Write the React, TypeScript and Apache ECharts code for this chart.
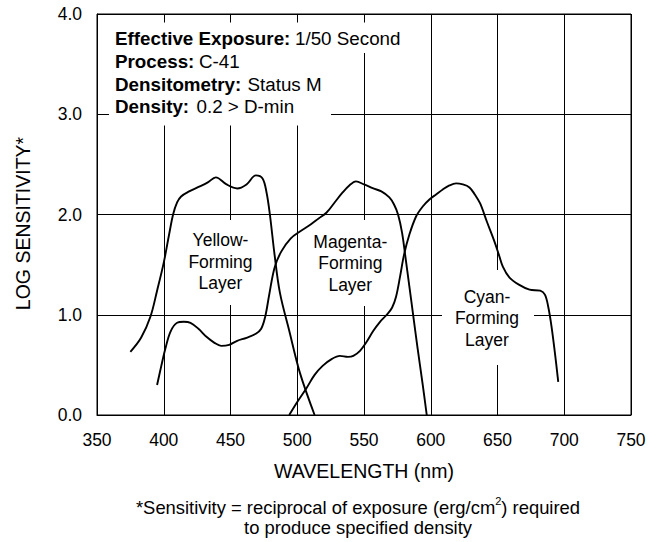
import React, { useEffect, useRef } from 'react';
import * as echarts from 'echarts';

// Axis ranges
const xMin = 350;
const xMax = 750;
const xStep = 50;
const yMin = 0;
const yMax = 4;
const yStep = 1;

// Spectral sensitivity curves: [wavelength nm, log sensitivity]
const yellowLayer: [number, number][] = [
  [375, 0.63], [383, 0.77], [390, 0.98], [395, 1.24], [400, 1.52], [404, 1.8],
  [407, 2.0], [410, 2.12], [413, 2.18], [419, 2.23], [427, 2.28], [433, 2.32],
  [439, 2.37], [447, 2.3], [455, 2.26], [462, 2.3], [469, 2.39], [474, 2.36],
  [477, 2.22], [479.5, 2.0], [483, 1.6], [487, 1.22], [494, 0.84], [502, 0.42],
  [513, 0.0],
];
const magentaLayer: [number, number][] = [
  [395, 0.3], [398, 0.48], [401, 0.65], [405, 0.83], [410, 0.92], [415, 0.93],
  [420, 0.92], [426, 0.86], [432, 0.78], [438, 0.72], [443, 0.69], [449, 0.7],
  [455, 0.74], [462, 0.77], [469, 0.81], [473, 0.86], [476, 0.98], [479, 1.2],
  [483, 1.47], [488, 1.63], [495, 1.76], [502, 1.83], [510, 1.9], [516, 1.96],
  [522, 2.02], [528, 2.12], [534, 2.22], [539, 2.29], [544, 2.33], [550, 2.3],
  [557, 2.26], [563, 2.23], [569, 2.17], [572.5, 2.1], [575.5, 2.0], [578.5, 1.82],
  [581, 1.58], [584, 1.28], [587, 0.98], [590, 0.68], [594, 0.3], [597, 0.0],
];
const cyanLayer: [number, number][] = [
  [494, 0.0], [500, 0.13], [507, 0.27], [513, 0.4], [519, 0.49], [526, 0.56],
  [532, 0.59], [538, 0.58], [542, 0.59], [547, 0.64], [552, 0.73], [557, 0.84],
  [562, 0.93], [567, 1.0], [571, 1.07], [574, 1.18], [577, 1.38], [580, 1.6],
  [584, 1.8], [589, 1.98], [594, 2.08], [599, 2.15], [604, 2.2], [609, 2.25],
  [614, 2.29], [619, 2.31], [624, 2.3], [629, 2.27], [633, 2.2], [637, 2.11],
  [642, 1.93], [648, 1.72], [651, 1.6], [654, 1.48], [659, 1.37], [666, 1.3],
  [674, 1.25], [682, 1.24], [685.5, 1.2], [688, 1.08], [690.5, 0.88], [693, 0.62],
  [695.5, 0.33],
];

// Texts
const infoLabels = ['Effective Exposure:', 'Process:', 'Densitometry:', 'Density:'];
const infoValues = ['1/50 Second', 'C-41', 'Status M', '0.2 > D-min'];
const layerNames = ['Yellow-\nForming\nLayer', 'Magenta-\nForming\nLayer', 'Cyan-\nForming\nLayer'];
const xAxisTitle = 'WAVELENGTH (nm)';
const yAxisTitle = 'LOG SENSITIVITY*';
const footnoteLine1 = '*Sensitivity = reciprocal of exposure (erg/cm{sup|2}) required';
const footnoteLine2 = 'to produce specified density';

const FONT = '"Liberation Sans", Arial, Helvetica, sans-serif';

export default function App() {
  const ref = useRef<HTMLDivElement>(null);

  useEffect(() => {
    document.body.style.margin = '0';
    if (!ref.current) return;
    const chart = echarts.init(ref.current, undefined, { renderer: 'svg' });

    const infoValueX = [295, 199, 247.5, 196.5];
    const infoY = [38.2, 61, 84, 106.5];
    const layerPos = [
      [220.5, 261.7],
      [350.3, 263.3],
      [487, 318.3],
    ];

    const whiteRects = [
      { x: 109, y: 22.5, width: 222, height: 103 },
      { x: 330, y: 22.5, width: 80, height: 30.5 },
      { x: 186, y: 220, width: 70, height: 85 },
      { x: 314, y: 220, width: 74, height: 86 },
      { x: 442, y: 270, width: 92, height: 95 },
    ];

    const graphic: any[] = [];
    whiteRects.forEach((r) => {
      graphic.push({ type: 'rect', z: 1, silent: true, shape: r, style: { fill: '#fff' } });
    });
    infoLabels.forEach((t, i) => {
      graphic.push({
        type: 'text', z: 3, x: 115, y: infoY[i],
        style: { text: t, fill: '#000', font: `bold 18.8px ${FONT}`, align: 'left', verticalAlign: 'middle' },
      });
      graphic.push({
        type: 'text', z: 3, x: infoValueX[i], y: infoY[i],
        style: { text: infoValues[i], fill: '#000', font: `18.8px ${FONT}`, align: 'left', verticalAlign: 'middle' },
      });
    });
    layerNames.forEach((t, i) => {
      graphic.push({
        type: 'text', z: 3, x: layerPos[i][0], y: layerPos[i][1],
        style: {
          text: t, fill: '#000', font: `17.5px ${FONT}`, lineHeight: 21.7,
          align: 'center', verticalAlign: 'middle',
        },
      });
    });
    graphic.push({
      type: 'text', z: 3, x: 358, y: 507,
      style: {
        text: footnoteLine1, fill: '#000', font: `18.4px ${FONT}`, align: 'center', verticalAlign: 'middle',
        lineHeight: 24,
        rich: { sup: { fontSize: 11, fontFamily: FONT, fill: '#000', verticalAlign: 'top', lineHeight: 24 } },
      },
    });
    graphic.push({
      type: 'text', z: 3, x: 358, y: 527.5,
      style: { text: footnoteLine2, fill: '#000', font: `18.4px ${FONT}`, align: 'center', verticalAlign: 'middle' },
    });

    const lineSeries = (name: string, data: [number, number][]) => ({
      name,
      type: 'line',
      data,
      smooth: 0.35,
      showSymbol: false,
      symbol: 'none',
      lineStyle: { color: '#000', width: 1.9 },
      z: 2,
    });

    chart.setOption({
      animation: false,
      backgroundColor: '#fff',
      textStyle: { fontFamily: FONT },
      grid: {
        left: 97, right: 36, top: 14, bottom: 127,
        show: true, borderColor: '#000', borderWidth: 1, backgroundColor: 'transparent',
      },
      xAxis: {
        type: 'value', min: xMin, max: xMax, interval: xStep,
        name: xAxisTitle, nameLocation: 'middle', nameGap: 46,
        nameTextStyle: { fontSize: 19.5, color: '#000', fontFamily: FONT },
        axisLine: { show: true, lineStyle: { color: '#000', width: 1 } },
        axisTick: { show: false },
        axisLabel: { color: '#000', fontSize: 17.5, margin: 16, fontFamily: FONT },
        splitLine: { show: true, lineStyle: { color: '#000', width: 1 } },
      },
      yAxis: {
        type: 'value', min: yMin, max: yMax, interval: yStep,
        name: yAxisTitle, nameLocation: 'middle', nameGap: 64, nameRotate: 90,
        nameTextStyle: { fontSize: 19.5, color: '#000', fontFamily: FONT, padding: [0, 18, 0, 0] },
        axisLine: { show: true, lineStyle: { color: '#000', width: 1 } },
        axisTick: { show: false },
        axisLabel: {
          color: '#000', fontSize: 17.5, margin: 15, fontFamily: FONT,
          formatter: (v: number) => v.toFixed(1),
        },
        splitLine: { show: true, lineStyle: { color: '#000', width: 1 } },
      },
      series: [
        lineSeries('Yellow-Forming Layer', yellowLayer),
        lineSeries('Magenta-Forming Layer', magentaLayer),
        lineSeries('Cyan-Forming Layer', cyanLayer),
      ],
      graphic,
    });

    return () => chart.dispose();
  }, []);

  return (
    <div
      ref={ref}
      style={{ width: 667, height: 542, position: 'fixed', left: 0, top: 0, background: '#fff' }}
    />
  );
}
